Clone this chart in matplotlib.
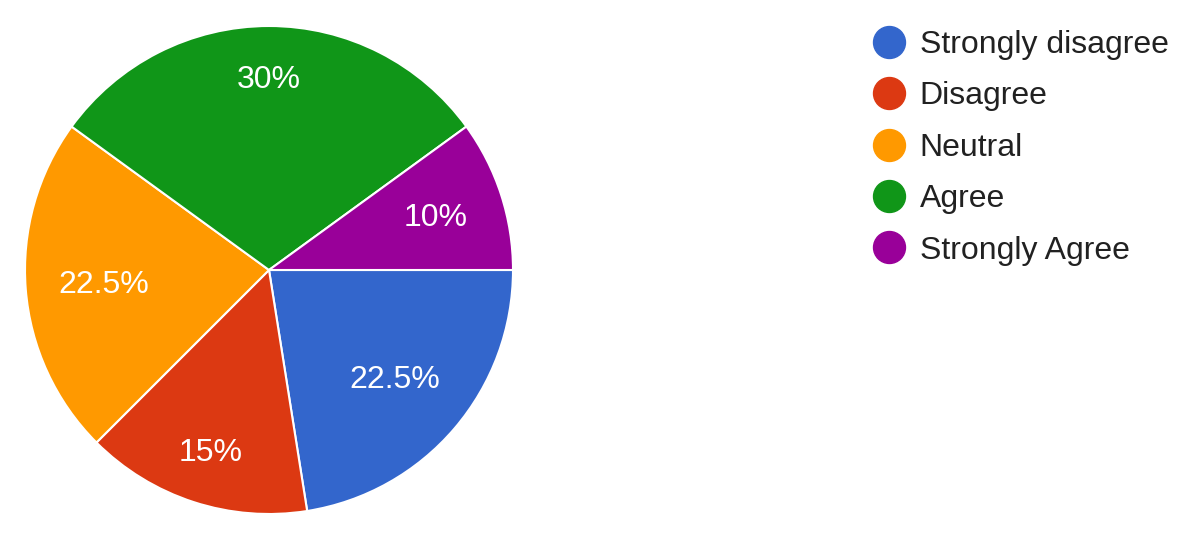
import numpy as np
import matplotlib.pyplot as plt
from matplotlib.lines import Line2D

CATEGORIES = ["Strongly disagree", "Disagree", "Neutral", "Agree", "Strongly Agree"]
PERCENTS = [22.5, 15, 22.5, 30, 10]
LABELS = ["22.5%", "15%", "22.5%", "30%", "10%"]
COLORS = ["#3366cc", "#dc3912", "#ff9900", "#109618", "#990099"]
LABEL_RADII = [0.68, 0.78, 0.68, 0.79, 0.72]

plt.rcParams["font.family"] = ["Liberation Sans", "DejaVu Sans"]

fig = plt.figure(figsize=(12, 5.42), dpi=100)
cx, cy, r = 269, 270, 244
ax = fig.add_axes([(cx - r) / 1200, (542 - cy - r) / 542, 2 * r / 1200, 2 * r / 542])

wedges, _ = ax.pie(
    PERCENTS,
    colors=COLORS,
    startangle=0,
    counterclock=False,
    radius=1.0,
    wedgeprops=dict(edgecolor="white", linewidth=1.5),
)
for w, lab, rad in zip(wedges, LABELS, LABEL_RADII):
    mid = np.deg2rad((w.theta1 + w.theta2) / 2)
    ax.text(rad * np.cos(mid), rad * np.sin(mid) - 0.01, lab, ha="center", va="center",
            color="white", fontsize=23)
ax.set_xlim(-1, 1)
ax.set_ylim(-1, 1)
ax.set_aspect("equal")
ax.axis("off")

handles = [Line2D([], [], marker="o", linestyle="none", markersize=23,
                  markerfacecolor=c, markeredgecolor=c) for c in COLORS]
leg = fig.legend(handles, CATEGORIES, loc="upper left",
                 bbox_to_anchor=(873 / 1200, 1 - 30 / 542),
                 frameon=False, fontsize=23, handlelength=1.0, handletextpad=0.46,
                 labelspacing=0.67, borderpad=0, borderaxespad=0)
for t in leg.get_texts():
    t.set_color("#212121")

fig.savefig("out.png", dpi=100)
